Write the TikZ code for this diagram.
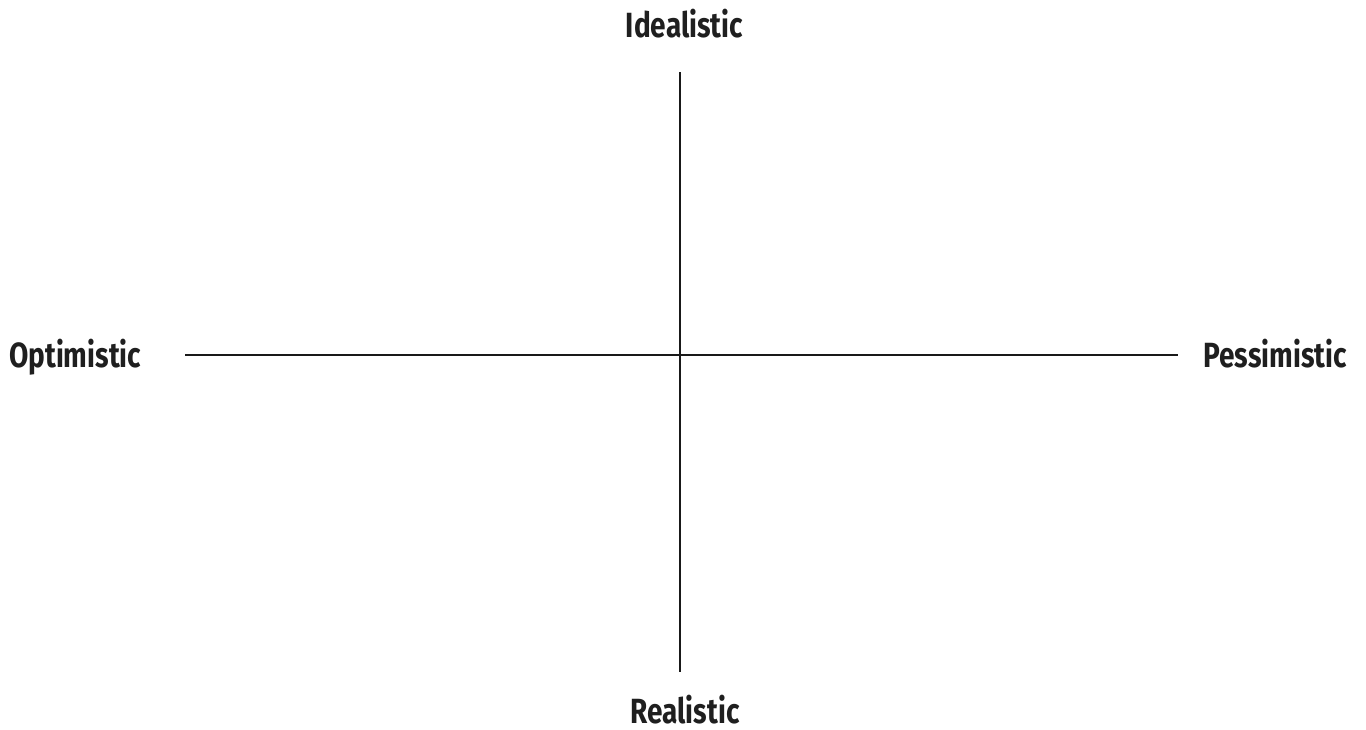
\documentclass[tikz,border=0pt]{standalone}
\usepackage{fontspec}
\setmainfont[FakeStretch=0.8]{Fira Sans}
\begin{document}
\begin{tikzpicture}[x=1pt,y=-1pt,
  axis/.style={line width=2pt,draw=black!90},
  lbl/.style={inner sep=0pt,text depth=0pt,font=\fontsize{35}{40}\selectfont\bfseries,text=black!88}]
\useasboundingbox (0,0) rectangle (1366,729);
\coordinate (top) at (680,72);
\coordinate (bot) at (680,672);
\coordinate (left) at (185,355);
\coordinate (right) at (1178,355);
\draw[axis] (top) -- (bot);
\draw[axis] (left) -- (right);
\node[lbl,anchor=base] (ideal) at (684.5,37) {Idealistic};
\node[lbl,anchor=base] (real) at (685,723) {Realistic};
\node[lbl,anchor=base west] (opt) at (9,367) {Optimistic};
\node[lbl,anchor=base east] (pess) at (1347,367) {Pessimistic};
\end{tikzpicture}
\end{document}
